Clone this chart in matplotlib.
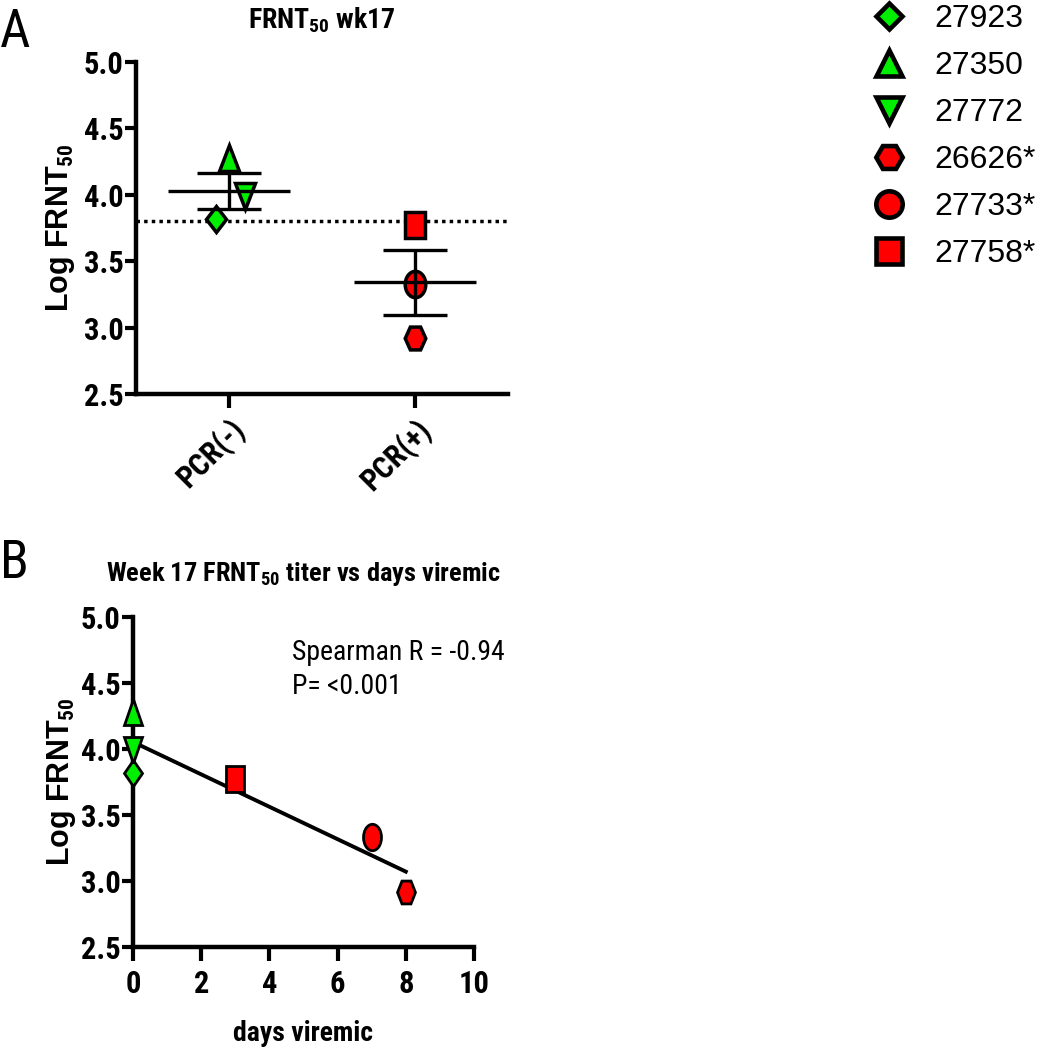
import matplotlib
matplotlib.use('Agg')
import matplotlib.pyplot as plt
import numpy as np
from matplotlib.lines import Line2D
from matplotlib.markers import MarkerStyle
from matplotlib.transforms import Affine2D
from matplotlib.ticker import FormatStrFormatter
from matplotlib.font_manager import FontProperties

plt.rcParams['font.family'] = ['Roboto Condensed', 'Liberation Sans', 'DejaVu Sans']
plt.rcParams['mathtext.fontset'] = 'custom'
plt.rcParams['mathtext.rm'] = 'Roboto Condensed'
plt.rcParams['mathtext.bf'] = 'Roboto Condensed:bold'
plt.rcParams['mathtext.default'] = 'bf'
wide = ['Liberation Sans', 'DejaVu Sans']

# subjects
ids = ['27923', '27350', '27772', '26626*', '27733*', '27758*']
groups = [0, 0, 0, 1, 1, 1]            # 0 = PCR(-), 1 = PCR(+)
frnt = [3.82, 4.28, 3.99, 2.92, 3.33, 3.77]
days = [0, 0, 0, 8, 7, 3]
jitter = [-0.07, 0.0, 0.085, 0.0, 0.0, 0.0]
markers = ['D', '^', 'v', 'H', 'o', 's']
colors = ['#00ee00', '#00ee00', '#00ee00', '#ff0000', '#ff0000', '#ff0000']
sizes = [13.5, 19, 19, 19, 19, 19]

categories = ['PCR(-)', 'PCR(+)']
cutoff = 3.8
yticks = [2.5, 3.0, 3.5, 4.0, 4.5, 5.0]
xticks_b = [0, 2, 4, 6, 8, 10]

fig = plt.figure(figsize=(10.39, 10.5), dpi=100)
ylab_font = FontProperties(family=wide, weight='bold', size=22)


def squeeze(m, sx=0.75):
    return MarkerStyle(m, transform=Affine2D().scale(sx, 1.0))


def style_axis(ax):
    for s in ['top', 'right']:
        ax.spines[s].set_visible(False)
    for s in ['left', 'bottom']:
        ax.spines[s].set_linewidth(3.2)
    ax.tick_params(axis='both', width=3, length=8, labelsize=22)
    ax.tick_params(axis='y', pad=1)
    for lab in ax.get_xticklabels() + ax.get_yticklabels():
        lab.set_fontweight('bold')
    ax.set_ylim(2.5, 5.0)
    ax.set_yticks(yticks)
    ax.yaxis.set_major_formatter(FormatStrFormatter('%.1f'))


# ---------------- panel A
ax1 = fig.add_axes([0.1309, 0.6248, 0.3580, 0.3162])
ax1.set_xlim(-0.5, 1.5)
ax1.axhline(cutoff, color='black', lw=2.5, ls=(0, (1, 1.2)), zorder=1)
for i in range(len(ids)):
    ax1.plot(groups[i] + jitter[i], frnt[i], ls='none', marker=squeeze(markers[i], 0.78),
             ms=sizes[i], mfc=colors[i], mec='black', mew=2.5, zorder=3)
for g in range(2):
    vals = np.array([frnt[i] for i in range(len(ids)) if groups[i] == g])
    m = vals.mean()
    sem = vals.std(ddof=1) / np.sqrt(len(vals))
    ax1.hlines(m, g - 0.33, g + 0.33, color='black', lw=2.4, zorder=4)
    ax1.hlines([m - sem, m + sem], g - 0.17, g + 0.17, color='black', lw=2.4, zorder=4)
    ax1.vlines(g, m - sem, m + sem, color='black', lw=2.4, zorder=4)
style_axis(ax1)
ax1.set_xticks([0, 1])
ax1.set_xticklabels(categories, rotation=45, ha='right', rotation_mode='anchor',
                    fontsize=22, fontweight='bold')
ax1.tick_params(axis='x', length=10, pad=4)
ax1.set_ylabel(r'Log FRNT$_{50}$', fontproperties=ylab_font, labelpad=5)
ax1.set_title(r'FRNT$_{50}$ wk17', fontsize=20, fontweight='bold', pad=24)

# ---------------- panel B
ax2 = fig.add_axes([0.1280, 0.0981, 0.3282, 0.3143])
ax2.set_xlim(0, 10)
coef = np.polyfit(days, frnt, 1)
xfit = np.array([min(days), max(days)])
ax2.plot(xfit, np.polyval(coef, xfit), color='black', lw=2.8, zorder=2)
for i in range(len(ids)):
    ax2.plot(days[i], frnt[i], ls='none', marker=squeeze(markers[i], 0.68),
             ms=sizes[i], mfc=colors[i], mec='black', mew=2.0, zorder=5, clip_on=False)
style_axis(ax2)
ax2.set_xticks(xticks_b)
ax2.tick_params(axis='x', length=10, pad=6, labelsize=22)
ax2.set_xlabel('days viremic', fontsize=20, fontweight='bold', labelpad=15)
ax2.set_ylabel(r'Log FRNT$_{50}$', fontproperties=ylab_font, labelpad=2)
ax2.set_title(r'Week 17 FRNT$_{50}$ titer vs days viremic', fontsize=19,
              fontweight='bold', pad=26)
ax2.text(4.65, 4.73, 'Spearman R = -0.94', fontsize=20, va='center')
ax2.text(4.65, 4.47, 'P= <0.001', fontsize=20, va='center')

# ---------------- legend
handles = [Line2D([], [], ls='none', marker=markers[i], ms=sizes[i], mfc=colors[i],
                  mec='black', mew=3.3, label=ids[i]) for i in range(len(ids))]
fig.legend(handles=handles, loc='upper left', bbox_to_anchor=(0.837, 0.996),
           frameon=False, prop={'family': wide, 'size': 23}, handlelength=1.2,
           handletextpad=0.84, labelspacing=0.53, borderpad=0, borderaxespad=0)

fig.text(0.0, 0.993, 'A', fontsize=38, va='top', ha='left')
fig.text(0.0, 0.488, 'B', fontsize=38, va='top', ha='left')

fig.savefig('out.png', dpi=100)
